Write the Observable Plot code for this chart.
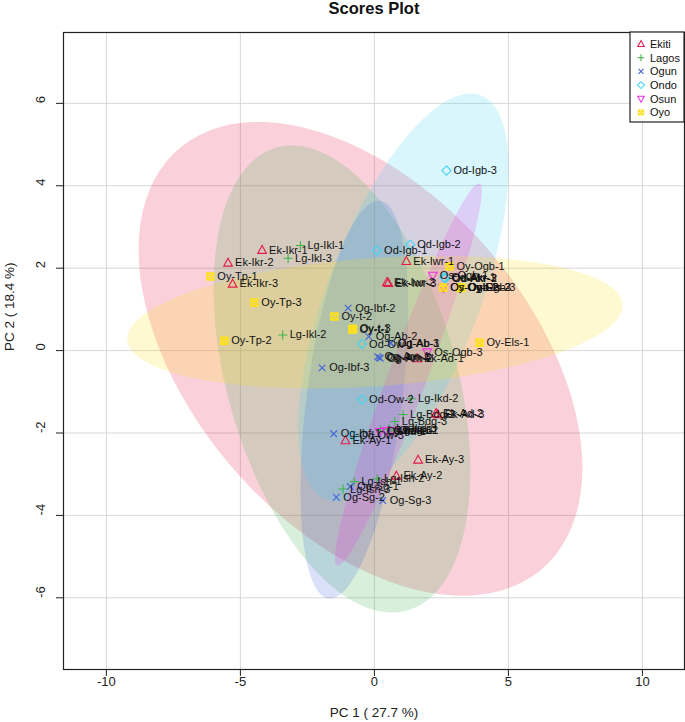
<!DOCTYPE html>
<html><head><meta charset="utf-8">
<script src="https://cdn.jsdelivr.net/npm/d3@7"></script>
<script src="https://cdn.jsdelivr.net/npm/@observablehq/plot@0.6"></script>
<style>body{margin:0;background:#fff} svg{display:block}</style>
</head><body><div id="chart"></div>
<script>
const groups = ["Ekiti","Lagos","Ogun","Ondo","Osun","Oyo"];
const groupColors = ["#e6194B","#3cb44b","#4363d8","#42d4f4","#f032e6","#ffe119"];

const sampleLabels = [
 "Ek-Ikr-1","Ek-Ikr-2","Ek-Ikr-3","Ek-Iwr-1","Ek-Iwr-2","Ek-Iwr-3","Ek-Ad-1","Ek-Ad-2","Ek-Ad-3","Ek-Ay-1","Ek-Ay-2","Ek-Ay-3",
 "Lg-Ikl-1","Lg-Ikl-2","Lg-Ikl-3","Lg-Ikd-1","Lg-Ikd-2","Lg-Ikd-3","Lg-Bdg-1","Lg-Bdg-2","Lg-Bdg-3","Lg-Ish-1","Lg-Ish-2","Lg-Ish-3",
 "Og-Ibf-1","Og-Ibf-2","Og-Ibf-3","Og-Ab-1","Og-Ab-2","Og-Ab-3","Og-Arn-1","Og-Arn-2","Og-Arn-3","Og-Sg-1","Og-Sg-2","Og-Sg-3",
 "Od-Igb-1","Od-Igb-2","Od-Igb-3","Od-Akr-1","Od-Akr-2","Od-Akr-3","Od-Ow-1","Od-Ow-2","Od-Ow-3",
 "Os-Ogb-1","Os-Ogb-2","Os-Ogb-3","Os-Ila-1","Os-Ila-2","Os-Ila-3",
 "Oy-Tp-1","Oy-Tp-2","Oy-Tp-3","Oy-t-1","Oy-t-2","Oy-t-3","Oy-Ogb-1","Oy-Ogb-2","Oy-Ogb-3","Oy-Els-1","Oy-Els-2","Oy-Els-3"
];
const sampleGroup = [
 "Ekiti","Ekiti","Ekiti","Ekiti","Ekiti","Ekiti","Ekiti","Ekiti","Ekiti","Ekiti","Ekiti","Ekiti",
 "Lagos","Lagos","Lagos","Lagos","Lagos","Lagos","Lagos","Lagos","Lagos","Lagos","Lagos","Lagos",
 "Ogun","Ogun","Ogun","Ogun","Ogun","Ogun","Ogun","Ogun","Ogun","Ogun","Ogun","Ogun",
 "Ondo","Ondo","Ondo","Ondo","Ondo","Ondo","Ondo","Ondo","Ondo",
 "Osun","Osun","Osun","Osun","Osun","Osun",
 "Oyo","Oyo","Oyo","Oyo","Oyo","Oyo","Oyo","Oyo","Oyo","Oyo","Oyo","Oyo"
];
const pc1 = [
 -4.19,-5.46,-5.29, 1.19, 0.47, 0.52, 1.59, 2.30, 2.36,-1.08, 0.82, 1.63,
 -2.76,-3.42,-3.22, 0.62, 1.37, 0.55, 0.22, 1.07, 0.76,-0.75, 0.10,-1.17,
 -1.52,-0.98,-1.95, 0.62,-0.21, 0.60, 0.12, 0.22, 0.18,-0.90,-1.42, 0.31,
  0.10, 1.34, 2.69, 2.61, 2.65, 2.63,-0.46,-0.46,-0.83,
  2.18, 2.57, 1.97, 0.20, 0.66, 0.45,
 -6.12,-5.60,-4.48,-0.82,-1.49,-0.80, 2.80, 2.57, 3.20, 3.92, 3.22, 3.24
];
const pc2 = [
  2.44, 2.13, 1.62, 2.17, 1.66, 1.64,-0.19,-1.52,-1.55,-2.18,-3.04,-2.65,
  2.55, 0.38, 2.24,-1.95,-1.17,-1.90,-1.93,-1.55,-1.72,-3.18,-3.11,-3.36,
 -2.02, 1.03,-0.42, 0.18, 0.34, 0.18,-0.15,-0.19,-0.17,-3.30,-3.56,-3.64,
  2.43, 2.57, 4.37, 1.78, 1.75, 1.76, 0.16,-1.19,-2.06,
  1.82, 1.53,-0.04,-1.97,-1.94,-1.95,
  1.80, 0.24, 1.17, 0.51, 0.83, 0.53, 2.04, 1.53, 1.53, 0.19, 1.52, 1.53
];

// 95% ellipse parameters per group (centre, half-width, half-height, correlation)
const ellCx = [-0.52,-1.21,-0.75, 1.08, 1.27, 0.02];
const ellCy = [-0.20,-0.69,-1.19, 1.29,-0.58, 0.69];
const ellW  = [ 8.28, 4.79, 2.01, 3.92, 2.74, 9.24];
const ellH  = [ 5.75, 5.67, 4.83, 4.95, 4.64, 1.61];
const ellR  = [-0.46,-0.39, 0.45, 0.64, 0.96, 0.25];

const xTicks = [-10,-5,0,5,10];
const yTicks = [-6,-4,-2,0,2,4,6];

const points = sampleLabels.map((l,i)=>({label:l, group:sampleGroup[i], x:pc1[i], y:pc2[i]}));
const ellPts = [];
groups.forEach((g,i)=>{
  for(let k=0;k<=100;k++){
    const t = 2*Math.PI*k/100;
    ellPts.push({group:g, x: ellCx[i]+ellW[i]*Math.cos(t),
      y: ellCy[i]+ellH[i]*(ellR[i]*Math.cos(t)+Math.sqrt(1-ellR[i]*ellR[i])*Math.sin(t))});
  }
});

const S = 4.6;
const symbols = [
  {draw(c){c.moveTo(0,-S);c.lineTo(S*0.95,S*0.72);c.lineTo(-S*0.95,S*0.72);c.closePath();}},
  {draw(c){c.moveTo(-S,0);c.lineTo(S,0);c.moveTo(0,-S);c.lineTo(0,S);}},
  {draw(c){const a=S*0.72;c.moveTo(-a,-a);c.lineTo(a,a);c.moveTo(-a,a);c.lineTo(a,-a);}},
  {draw(c){c.moveTo(0,-S);c.lineTo(S,0);c.lineTo(0,S);c.lineTo(-S,0);c.closePath();}},
  {draw(c){c.moveTo(0,S);c.lineTo(S*0.95,-S*0.72);c.lineTo(-S*0.95,-S*0.72);c.closePath();}},
  {draw(c){const a=S*0.75;c.rect(-a,-a,2*a,2*a);c.moveTo(-a,-a);c.lineTo(a,a);c.moveTo(-a,a);c.lineTo(a,-a);}}
];
const symWidth = [1.1,1.1,1.1,1.1,1.1,1.6];

const font = "'Liberation Sans', Arial, Helvetica, sans-serif";
const plot = Plot.plot({
  width: 685, height: 722,
  marginLeft: 63, marginRight: 1, marginTop: 32, marginBottom: 53,
  style: {fontFamily: font, background: "#fff"},
  x: {domain: [-11.6, 11.57]},
  y: {domain: [-7.74, 7.72]},
  color: {domain: groups, range: groupColors},
  marks: [
    Plot.gridX(xTicks, {stroke: "#d8d8d8", strokeOpacity: 1}),
    Plot.gridY(yTicks, {stroke: "#d8d8d8", strokeOpacity: 1}),
    Plot.line(ellPts, {x: "x", y: "y", z: "group", fill: "group", fillOpacity: 0.2, stroke: null, curve: "linear-closed"}),
    ...groups.map((g,i)=>Plot.dot(points.filter(d=>d.group===g), {x:"x", y:"y", symbol: symbols[i], r: S, stroke: groupColors[i], strokeWidth: symWidth[i], fill: "none"})),
    Plot.text(points, {x:"x", y:"y", text:"label", textAnchor:"start", lineAnchor: "middle", dx: 7, fontSize: 11, fill: "#111"}),
    Plot.axisX({ticks: xTicks, tickSize: 7, tickFormat: () => "", label: null, stroke:"#222"}),
    Plot.axisY({ticks: yTicks, tickSize: 7, tickFormat: () => "", label: null, stroke:"#222"}),
    Plot.text(xTicks, {x: d=>d, frameAnchor: "bottom", lineAnchor: "middle", dy: 12, fontSize: 13, fill: "#222"}),
    Plot.text(yTicks, {y: d=>d, frameAnchor: "left", lineAnchor: "middle", dx: -23, rotate: -90, fontSize: 13, fill: "#222"}),
    Plot.text(["PC 1 ( 27.7 %)"], {frameAnchor: "bottom", lineAnchor: "middle", dy: 43, fontSize: 13.5, fill: "#222"}),
    Plot.text(["PC 2 ( 18.4 %)"], {frameAnchor: "left", lineAnchor: "middle", dx: -54, rotate: -90, fontSize: 13.5, fill: "#222"}),
    Plot.text(["Scores Plot"], {frameAnchor: "top", lineAnchor: "middle", dy: -24, fontSize: 16.5, fontWeight: "bold", fill: "#111"}),
    Plot.frame({stroke: "#222", strokeWidth: 1.2})
  ]
});
document.getElementById("chart").append(plot);

// legend box (top-right, inside the frame)
const svg = d3.select(plot);
const lg = svg.append("g").attr("font-family", font).attr("font-size", 11).attr("text-anchor", "start");
lg.append("rect").attr("x", 630).attr("y", 32).attr("width", 54).attr("height", 90)
  .attr("fill", "#fff").attr("stroke", "#222").attr("stroke-width", 1.2);
groups.forEach((g,i)=>{
  const yy = 44 + i*13.7;
  const p = d3.path();
  symbols[i].draw(p);
  lg.append("g").attr("transform", `translate(641,${yy}) scale(0.75)`)
    .append("path").attr("d", p.toString()).attr("fill","none").attr("stroke", groupColors[i]).attr("stroke-width", 1.4);
  lg.append("text").attr("x", 650).attr("y", yy).attr("dy", "0.35em").attr("fill", "#111").text(g);
});
</script>
</body></html>
